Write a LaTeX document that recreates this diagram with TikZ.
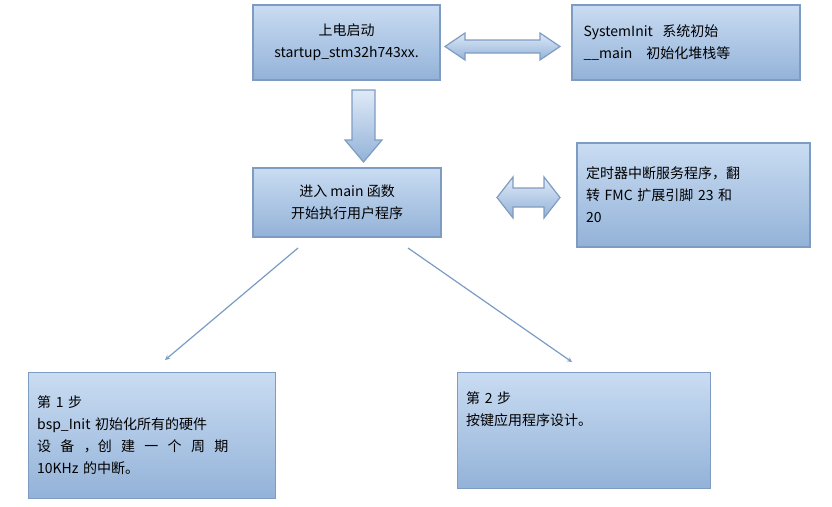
\documentclass[tikz,border=0pt]{standalone}
\usepackage{fontspec}
\setmainfont{Noto Sans CJK SC}

\definecolor{boxtop}{HTML}{C9DCF2}
\definecolor{boxbot}{HTML}{93B2D8}
\definecolor{boxline}{HTML}{7E9CC2}
\definecolor{linkline}{HTML}{7A9CC4}

\tikzset{
  blk/.style={draw=boxline, line width=1.2pt, top color=boxtop, bottom color=boxbot,
    font=\fontsize{14}{22}\selectfont, inner sep=6pt},
  bigarrow/.style={draw=boxline, line width=1.2pt, top color=boxtop!60!white, bottom color=boxbot,
    line join=miter},
  thin/.style={->,>=stealth, draw=linkline, line width=1.2pt}
}

\begin{document}
\begin{tikzpicture}[x=1pt,y=-1pt]
  \useasboundingbox (0,0) rectangle (832,506);

  \node[blk, minimum width=187pt, minimum height=75pt, align=center] (start) at (346.5,42.5)
    {上电启动\\startup\_stm32h743xx.};
  \node[blk, minimum width=228pt, minimum height=75pt, text width=205pt, align=left] (sysinit) at (686,42.5)
    {SystemInit\ \ 系统初始\\\_\_main\ \ \ 初始化堆栈等};
  \node[blk, minimum width=188pt, minimum height=69pt, align=center] (mainfn) at (347,202.5)
    {进入 main 函数\\开始执行用户程序};
  \node[blk, minimum width=233pt, minimum height=104pt, text width=215pt, align=left] (timer) at (693.5,195)
    {定时器中断服务程序，翻\\转 FMC 扩展引脚 23 和\\20};
  \node[blk, minimum width=247pt, minimum height=126pt, text width=230pt, align=left, anchor=north west]
    (step1) at (28,372)
    {第 1 步\\bsp\_Init 初始化所有的硬件\\设\ \ 备\ \ ，创\ \ 建\ \ 一\ \ 个\ \ 周\ \ 期\\10KHz 的中断。};
  \node[blk, minimum width=253pt, minimum height=116pt, text width=236pt, align=left, anchor=north west]
    (step2) at (457,372)
    {第 2 步\\按键应用程序设计。\\\mbox{}\\\mbox{}};

  % block arrows
  \draw[bigarrow] (445,46.5) -- (465,33) -- (465,40) -- (540,40) -- (540,33) -- (560,46.5)
    -- (540,60) -- (540,53) -- (465,53) -- (465,60) -- cycle;
  \draw[bigarrow] (497,197.5) -- (513,177) -- (513,188) -- (544,188) -- (544,177) -- (560,197.5)
    -- (544,218) -- (544,207) -- (513,207) -- (513,218) -- cycle;
  \draw[bigarrow] (352,90) -- (375,90) -- (375,140) -- (382,140) -- (363.5,162)
    -- (345,140) -- (352,140) -- cycle;

  % thin arrows
  \coordinate (l1) at (298,248);
  \coordinate (l1e) at (165,360);
  \coordinate (l2) at (408,248);
  \coordinate (l2e) at (572,362);
  \draw[thin] (l1) -- (l1e);
  \draw[thin] (l2) -- (l2e);
\end{tikzpicture}
\end{document}
